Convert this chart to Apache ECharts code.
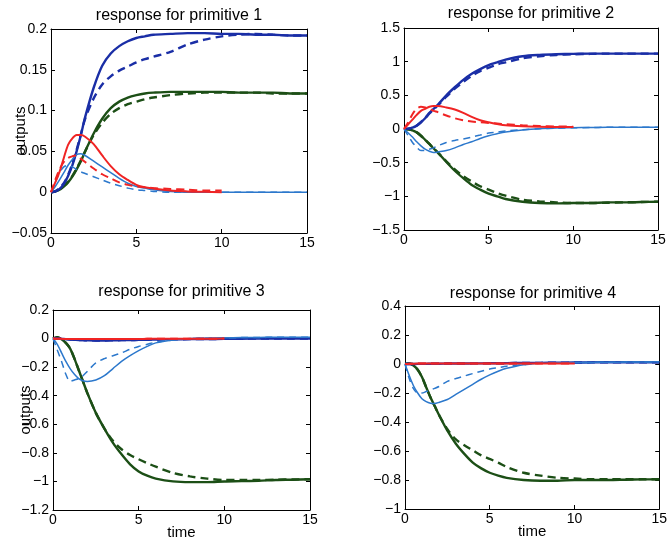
<!DOCTYPE html>
<html>
<head>
<meta charset="utf-8">
<script src="https://cdn.jsdelivr.net/npm/echarts@6/dist/echarts.min.js"></script>
<style>
html,body{margin:0;padding:0;background:#fff;}
#c{width:670px;height:542px;}
</style>
</head>
<body>
<div id="c"></div>
<script>
// time samples
const T = [0,0.25,0.5,0.75,1,1.25,1.5,1.75,2,2.5,3,3.5,4,4.5,5,5.5,6,7,8,9,10,11,12,13,14,15];

// ---- primitive 1 ----
const p1DarkSolid  = [0,0.001,0.004,0.01,0.02,0.033,0.05,0.07,0.092,0.128,0.155,0.17,0.179,0.185,0.189,0.191,0.193,0.194,0.195,0.195,0.194,0.194,0.193,0.193,0.192,0.192];
const p1DarkDash   = [0,0.001,0.005,0.011,0.021,0.035,0.052,0.071,0.09,0.115,0.132,0.142,0.149,0.154,0.159,0.163,0.166,0.172,0.181,0.187,0.191,0.193,0.194,0.193,0.192,0.192];
const p1GreenSolid = [0,0.001,0.003,0.007,0.012,0.019,0.028,0.038,0.05,0.072,0.09,0.103,0.111,0.116,0.119,0.121,0.122,0.123,0.123,0.123,0.123,0.122,0.122,0.122,0.121,0.121];
const p1GreenDash  = [0,0.001,0.004,0.008,0.013,0.02,0.029,0.039,0.05,0.07,0.085,0.096,0.103,0.108,0.111,0.114,0.116,0.119,0.121,0.122,0.122,0.122,0.122,0.121,0.121,0.121];
const p1RedSolid   = [0,0.012,0.025,0.042,0.058,0.066,0.07,0.07,0.068,0.059,0.045,0.032,0.022,0.015,0.009,0.006,0.0045,0.002,0.001,0.0005,0];
const p1RedDash    = [0,0.015,0.028,0.037,0.042,0.044,0.045,0.041,0.037,0.029,0.022,0.017,0.012,0.009,0.007,0.006,0.005,0.004,0.003,0.002,0.002];
const p1LightSolid = [0,0.007,0.015,0.024,0.033,0.04,0.046,0.047,0.045,0.038,0.031,0.024,0.017,0.011,0.007,0.005,0.003,0.001,0,0,0,0,0,0,0,0];
const p1LightDash  = [0,0.012,0.024,0.031,0.033,0.031,0.028,0.025,0.023,0.019,0.015,0.011,0.008,0.005,0.003,0.002,0.001,0,0,0,0,0,0,0,0,0];

// ---- primitive 2 ----
const p2DarkSolid  = [0,0.005,0.02,0.05,0.1,0.16,0.24,0.3,0.36,0.5,0.62,0.73,0.82,0.89,0.95,0.99,1.03,1.08,1.1,1.11,1.115,1.12,1.12,1.12,1.12,1.12];
const p2DarkDash   = [0,0.005,0.02,0.05,0.1,0.16,0.23,0.29,0.35,0.48,0.6,0.7,0.79,0.86,0.91,0.96,0.99,1.05,1.08,1.1,1.11,1.115,1.12,1.12,1.12,1.12];
const p2GreenSolid = [0,-0.005,-0.02,-0.05,-0.1,-0.16,-0.22,-0.29,-0.35,-0.49,-0.62,-0.73,-0.83,-0.9,-0.96,-1.0,-1.04,-1.08,-1.1,-1.105,-1.1,-1.1,-1.09,-1.09,-1.085,-1.08];
const p2GreenDash  = [0,-0.005,-0.02,-0.05,-0.1,-0.16,-0.22,-0.29,-0.35,-0.48,-0.6,-0.7,-0.78,-0.85,-0.9,-0.95,-0.99,-1.05,-1.075,-1.09,-1.1,-1.1,-1.095,-1.09,-1.085,-1.08];
const p2RedSolid   = [0,0.07,0.14,0.21,0.27,0.3,0.33,0.34,0.34,0.32,0.29,0.24,0.18,0.13,0.1,0.075,0.055,0.04,0.033,0.03,0.03];
const p2RedDash    = [0,0.1,0.22,0.3,0.33,0.32,0.3,0.27,0.25,0.2,0.16,0.13,0.11,0.1,0.09,0.08,0.07,0.055,0.045,0.038,0.035];
const p2LightSolid = [0,-0.06,-0.12,-0.19,-0.25,-0.3,-0.33,-0.35,-0.34,-0.32,-0.28,-0.23,-0.19,-0.14,-0.1,-0.07,-0.045,-0.015,0.005,0.015,0.02,0.022,0.025,0.025,0.025,0.025];
const p2LightDash  = [0,-0.1,-0.2,-0.27,-0.32,-0.32,-0.3,-0.28,-0.25,-0.2,-0.17,-0.15,-0.12,-0.09,-0.06,-0.045,-0.03,-0.01,0.005,0.012,0.018,0.022,0.025,0.025,0.025,0.025];

// ---- primitive 3 ----
const p3DarkSolid  = [0,0,-0.002,-0.004,-0.006,-0.008,-0.01,-0.011,-0.012,-0.013,-0.013,-0.012,-0.011,-0.01,-0.009,-0.008,-0.007,-0.005,-0.004,-0.003,-0.002,-0.001,0,0,0,0];
const p3DarkDash   = [0,0,-0.002,-0.004,-0.006,-0.008,-0.01,-0.011,-0.012,-0.013,-0.013,-0.012,-0.011,-0.01,-0.009,-0.008,-0.007,-0.005,-0.004,-0.003,-0.002,-0.001,0,0,0,0];
const p3GreenSolid = [0,0.01,-0.005,-0.03,-0.07,-0.14,-0.22,-0.3,-0.38,-0.52,-0.63,-0.73,-0.81,-0.88,-0.93,-0.96,-0.98,-1.0,-1.005,-1.005,-1.0,-0.998,-0.995,-0.99,-0.988,-0.985];
const p3GreenDash  = [0,0.01,-0.005,-0.03,-0.07,-0.14,-0.22,-0.3,-0.38,-0.52,-0.63,-0.715,-0.775,-0.815,-0.845,-0.872,-0.897,-0.94,-0.965,-0.98,-0.99,-0.99,-0.99,-0.988,-0.986,-0.985];
const p3RedSolid   = [0,-0.001,-0.002,-0.003,-0.003,-0.003,-0.003,-0.003,-0.003,-0.003,-0.003,-0.003,-0.003,-0.003,-0.003,-0.002,-0.002,-0.002,-0.001,-0.001,0];
const p3RedDash    = [0,-0.001,-0.002,-0.003,-0.003,-0.003,-0.003,-0.003,-0.003,-0.003,-0.003,-0.003,-0.003,-0.003,-0.003,-0.002,-0.002,-0.002,-0.001,-0.001,0];
const p3LightSolid = [0,-0.04,-0.1,-0.16,-0.21,-0.25,-0.28,-0.295,-0.3,-0.29,-0.26,-0.21,-0.16,-0.12,-0.085,-0.055,-0.03,-0.01,0,0.003,0.005,0.007,0.008,0.009,0.01,0.01];
const p3LightDash  = [0,-0.08,-0.16,-0.25,-0.3,-0.29,-0.28,-0.26,-0.23,-0.17,-0.14,-0.12,-0.1,-0.075,-0.055,-0.04,-0.025,-0.01,0,0.003,0.005,0.007,0.008,0.009,0.01,0.01];

// ---- primitive 4 ----
const p4DarkSolid  = [0,0,0,0.001,0.001,0.001,0.002,0.002,0.002,0.003,0.003,0.003,0.004,0.004,0.005,0.005,0.006,0.007,0.008,0.009,0.01,0.011,0.012,0.012,0.012,0.012];
const p4DarkDash   = [0,0,0,0.001,0.001,0.001,0.002,0.002,0.002,0.003,0.003,0.003,0.004,0.004,0.005,0.005,0.006,0.007,0.008,0.009,0.01,0.011,0.012,0.012,0.012,0.012];
const p4GreenSolid = [0,0.003,-0.01,-0.04,-0.09,-0.16,-0.23,-0.29,-0.35,-0.46,-0.55,-0.62,-0.68,-0.72,-0.75,-0.77,-0.785,-0.8,-0.805,-0.805,-0.8,-0.8,-0.8,-0.798,-0.796,-0.795];
const p4GreenDash  = [0,0.003,-0.01,-0.04,-0.09,-0.16,-0.23,-0.29,-0.35,-0.45,-0.52,-0.56,-0.595,-0.63,-0.655,-0.68,-0.71,-0.75,-0.77,-0.785,-0.79,-0.795,-0.795,-0.795,-0.795,-0.795];
const p4RedSolid   = [0,0.001,0.002,0.003,0.003,0.003,0.003,0.003,0.003,0.003,0.003,0.003,0.003,0.003,0.003,0.003,0.003,0.003,0.003,0.003,0.003];
const p4RedDash    = [0,0.001,0.002,0.003,0.003,0.003,0.003,0.003,0.003,0.003,0.003,0.003,0.003,0.003,0.003,0.003,0.003,0.003,0.003,0.003,0.003];
const p4LightSolid = [0,-0.08,-0.15,-0.2,-0.24,-0.26,-0.27,-0.272,-0.265,-0.245,-0.21,-0.175,-0.14,-0.105,-0.075,-0.05,-0.03,-0.005,0.005,0.008,0.01,0.011,0.012,0.013,0.014,0.015];
const p4LightDash  = [0,-0.1,-0.17,-0.2,-0.2,-0.19,-0.18,-0.168,-0.155,-0.12,-0.1,-0.083,-0.066,-0.05,-0.035,-0.025,-0.015,-0.005,0.005,0.008,0.01,0.011,0.012,0.013,0.014,0.015];

// axis settings per panel
const titles = ['response for primitive 1','response for primitive 2','response for primitive 3','response for primitive 4'];
const yMin = [-0.05,-1.5,-1.2,-1];
const yMax = [0.2,1.5,0.2,0.4];
const yStep = [0.05,0.5,0.2,0.2];
const xTicks = [0,15,5];

const panels = [
  [p1GreenSolid,p1GreenDash,p1DarkSolid,p1DarkDash,p1LightSolid,p1LightDash,p1RedSolid,p1RedDash],
  [p2GreenSolid,p2GreenDash,p2DarkSolid,p2DarkDash,p2LightSolid,p2LightDash,p2RedSolid,p2RedDash],
  [p3GreenSolid,p3GreenDash,p3DarkSolid,p3DarkDash,p3LightSolid,p3LightDash,p3RedSolid,p3RedDash],
  [p4GreenSolid,p4GreenDash,p4DarkSolid,p4DarkDash,p4LightSolid,p4LightDash,p4RedSolid,p4RedDash]
];

const styles = [
  {color:'#1c4f16', width:2.4, type:'solid'},
  {color:'#1c4f16', width:2.4, type:[8,5]},
  {color:'#1a2ea6', width:2.4, type:'solid'},
  {color:'#1a2ea6', width:2.4, type:[8,5]},
  {color:'#2c78cc', width:1.5, type:'solid'},
  {color:'#2c78cc', width:1.5, type:[7,5]},
  {color:'#f02424', width:2, type:'solid'},
  {color:'#f02424', width:2, type:[8,5]}
];

const grids = [
  {left:51, top:29, width:256, height:204},
  {left:404, top:28, width:254, height:202},
  {left:53, top:310, width:257, height:200},
  {left:405, top:306, width:256, height:203}
];
const titleY = [16, 14, 292, 294];

const FONT = "'Liberation Sans', Arial, Helvetica, sans-serif";
const fmt = v => String(Math.round(v*100)/100).replace('-', '\u2212');

const xAxis = [], yAxis = [], series = [], graphic = [];
grids.forEach((g, i) => {
  const base = {
    gridIndex: i, type: 'value', min: xTicks[0], max: xTicks[1], interval: xTicks[2],
    axisLine: {show: true, onZero: false, lineStyle: {color: '#000', width: 1}},
    axisTick: {show: true, inside: true, length: 4, lineStyle: {color: '#000'}},
    splitLine: {show: false}
  };
  const xa = Object.assign({}, base, {
    position: 'bottom',
    axisLabel: {show: true, margin: 3, fontSize: 14, color: '#000', fontFamily: FONT, formatter: fmt}
  });
  if (i >= 2) {
    Object.assign(xa, {name: 'time', nameLocation: 'middle', nameGap: 15, nameMoveOverlap: false,
      nameTextStyle: {fontSize: 15, color: '#000', fontFamily: FONT}});
  }
  xAxis.push(xa);
  xAxis.push(Object.assign({}, base, {position: 'top', axisLabel: {show: false}}));

  const ybase = {
    gridIndex: i, type: 'value', min: yMin[i], max: yMax[i], interval: yStep[i],
    axisLine: {show: true, onZero: false, lineStyle: {color: '#000', width: 1}},
    axisTick: {show: true, inside: true, length: 4, lineStyle: {color: '#000'}},
    splitLine: {show: false}
  };
  const ya = Object.assign({}, ybase, {
    position: 'left',
    axisLabel: {show: true, margin: 4, fontSize: 14, color: '#000', fontFamily: FONT, formatter: fmt}
  });
  if (i === 0 || i === 2) {
    Object.assign(ya, {name: 'outputs', nameLocation: 'middle', nameGap: i === 0 ? 23 : 20, nameMoveOverlap: false,
      nameTextStyle: {fontSize: 15, color: '#000', fontFamily: FONT}});
  }
  yAxis.push(ya);
  yAxis.push(Object.assign({}, ybase, {position: 'right', axisLabel: {show: false}}));

  panels[i].forEach((vals, k) => {
    series.push({
      type: 'line', xAxisIndex: 2*i, yAxisIndex: 2*i,
      data: vals.map((v, j) => [T[j], v]),
      showSymbol: false, smooth: 0.3, silent: true,
      lineStyle: styles[k], z: 2 + k
    });
  });

  graphic.push({
    type: 'text', x: g.left + g.width/2, y: titleY[i],
    style: {text: titles[i], fill: '#000', font: '16px ' + FONT, textAlign: 'center', textVerticalAlign: 'middle'}
  });
});

const chart = echarts.init(document.getElementById('c'), null, {renderer: 'canvas'});
chart.setOption({
  animation: false,
  backgroundColor: '#fff',
  grid: grids,
  xAxis: xAxis,
  yAxis: yAxis,
  series: series,
  graphic: graphic
});
</script>
</body>
</html>
